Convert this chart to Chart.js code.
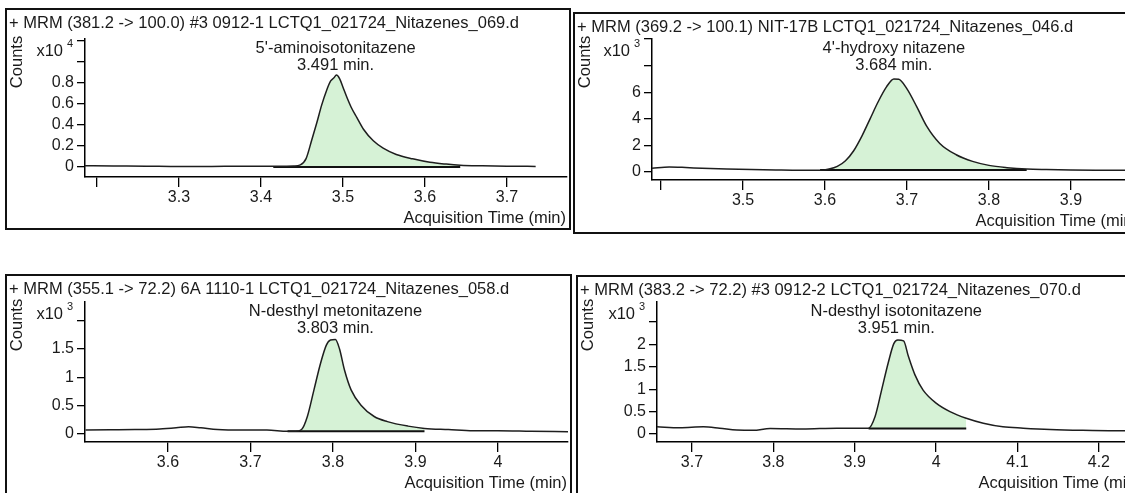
<!DOCTYPE html>
<html>
<head>
<meta charset="utf-8">
<script src="https://cdn.jsdelivr.net/npm/chart.js@4"></script>
<style>
  html, body { margin: 0; padding: 0; background: #fff; overflow: hidden; }
  body { width: 1125px; height: 493px; position: relative; }
  .panel { position: absolute; border: 2px solid #111; box-sizing: border-box; background: #fff; overflow: hidden; }
  .panel canvas { position: absolute; left: 0; top: 0; }
</style>
</head>
<body>
<div class="panel" id="p1" style="left:5px;top:8px;width:566px;height:222px"><canvas id="c1"></canvas></div>
<div class="panel" id="p2" style="left:573px;top:12px;width:570px;height:222px"><canvas id="c2"></canvas></div>
<div class="panel" id="p3" style="left:5px;top:274px;width:567px;height:240px"><canvas id="c3"></canvas></div>
<div class="panel" id="p4" style="left:576px;top:275px;width:570px;height:240px"><canvas id="c4"></canvas></div>
<script>
/* ==========================
   DATA
========================== */
// 5'-aminoisotonitazene, counts x10^4
const p1Time = [3.185, 3.22, 3.26, 3.30, 3.34, 3.38, 3.415, 3.43, 3.44, 3.448, 3.455, 3.462, 3.468, 3.474, 3.480, 3.485, 3.489, 3.492, 3.496, 3.500, 3.505, 3.510, 3.517, 3.525, 3.537, 3.549, 3.565, 3.585, 3.606, 3.626, 3.643, 3.67, 3.70, 3.735];
const p1Counts = [0.012, 0.010, 0.008, 0.005, 0.006, 0.008, 0.007, 0.008, 0.010, 0.02, 0.08, 0.26, 0.42, 0.59, 0.73, 0.82, 0.85, 0.876, 0.84, 0.76, 0.66, 0.57, 0.47, 0.36, 0.25, 0.18, 0.12, 0.078, 0.045, 0.028, 0.018, 0.012, 0.008, 0.006];
const p1XTicks = [3.2, 3.3, 3.4, 3.5, 3.6, 3.7];
const p1XLabels = ["", "3.3", "3.4", "3.5", "3.6", "3.7"];
const p1YTicks = [0, 0.2, 0.4, 0.6, 0.8, 1.0, 1.2];
const p1YLabels = ["0", "0.2", "0.4", "0.6", "0.8", "", ""];

// 4'-hydroxy nitazene, counts x10^3
const p2Time = [3.389, 3.41, 3.43, 3.45, 3.48, 3.51, 3.54, 3.57, 3.594, 3.605, 3.615, 3.625, 3.635, 3.645, 3.655, 3.665, 3.675, 3.684, 3.69, 3.70, 3.712, 3.724, 3.74, 3.76, 3.78, 3.80, 3.822, 3.846, 3.87, 3.90, 3.93, 3.96, 3.985];
const p2Counts = [0.28, 0.38, 0.34, 0.28, 0.22, 0.18, 0.15, 0.13, 0.13, 0.22, 0.42, 0.85, 1.6, 2.7, 4.0, 5.3, 6.4, 7.0, 6.98, 6.25, 4.9, 3.45, 2.15, 1.3, 0.8, 0.5, 0.33, 0.22, 0.18, 0.15, 0.14, 0.14, 0.14];
const p2XTicks = [3.4, 3.5, 3.6, 3.7, 3.8, 3.9];
const p2XLabels = ["", "3.5", "3.6", "3.7", "3.8", "3.9"];
const p2YTicks = [0, 2, 4, 6, 8, 10];
const p2YLabels = ["0", "2", "4", "6", "", ""];

// N-desthyl metonitazene, counts x10^3
const p3Time = [3.50, 3.53, 3.56, 3.59, 3.61, 3.625, 3.64, 3.66, 3.69, 3.72, 3.745, 3.755, 3.762, 3.769, 3.777, 3.785, 3.792, 3.797, 3.803, 3.808, 3.814, 3.822, 3.834, 3.85, 3.866, 3.891, 3.911, 3.94, 3.97, 4.00, 4.04, 4.085];
const p3Counts = [0.07, 0.075, 0.08, 0.09, 0.11, 0.13, 0.11, 0.08, 0.07, 0.07, 0.05, 0.05, 0.08, 0.31, 0.78, 1.25, 1.57, 1.66, 1.67, 1.50, 1.13, 0.78, 0.51, 0.31, 0.22, 0.14, 0.10, 0.08, 0.06, 0.06, 0.05, 0.04];
const p3XTicks = [3.6, 3.7, 3.8, 3.9, 4.0];
const p3XLabels = ["3.6", "3.7", "3.8", "3.9", "4"];
const p3YTicks = [0, 0.5, 1, 1.5, 2];
const p3YLabels = ["0", "0.5", "1", "1.5", ""];

// N-desthyl isotonitazene, counts x10^3
const p4Time = [3.657, 3.685, 3.714, 3.734, 3.755, 3.775, 3.796, 3.836, 3.878, 3.906, 3.917, 3.925, 3.933, 3.941, 3.948, 3.953, 3.96, 3.966, 3.974, 3.984, 4.00, 4.017, 4.037, 4.058, 4.082, 4.107, 4.14, 4.18, 4.22, 4.253];
const p4Counts = [0.16, 0.14, 0.16, 0.13, 0.09, 0.08, 0.12, 0.11, 0.13, 0.13, 0.13, 0.39, 0.98, 1.58, 2.02, 2.10, 2.08, 1.73, 1.32, 0.98, 0.69, 0.5, 0.35, 0.24, 0.16, 0.13, 0.10, 0.08, 0.07, 0.07];
const p4XTicks = [3.7, 3.8, 3.9, 4.0, 4.1, 4.2];
const p4XLabels = ["3.7", "3.8", "3.9", "4", "4.1", "4.2"];
const p4YTicks = [0, 0.5, 1, 1.5, 2, 2.5];
const p4YLabels = ["0", "0.5", "1", "1.5", "2", ""];

/* ==========================
   PANELS
========================== */
const FONT = "Liberation Sans, Arial, sans-serif";
const FILL = "rgb(214,242,214)";
const INK = "#1a1a1a";

const panels = [
    {
        canvas: "c1", w: 562, h: 218,
        area: { left: 78, top: 29, right: 560, bottom: 167 },
        xMin: 3.1854, xMax: 3.7732, yMin: -0.095, yMax: 1.22,
        time: p1Time, counts: p1Counts,
        xTicks: p1XTicks, xLabels: p1XLabels, yTicks: p1YTicks, yLabels: p1YLabels,
        intStart: 3.415, intEnd: 3.643, base: 0.0,
        title: "+ MRM (381.2 -> 100.0) #3 0912-1 LCTQ1_021724_Nitazenes_069.d",
        compound: "5'-aminoisotonitazene", rt: 3.491, exp: "4"
    },
    {
        canvas: "c2", w: 566, h: 218,
        area: { left: 77, top: 25, right: 564, bottom: 166 },
        xMin: 3.389, xMax: 3.983, yMin: -0.6, yMax: 10,
        time: p2Time, counts: p2Counts,
        xTicks: p2XTicks, xLabels: p2XLabels, yTicks: p2YTicks, yLabels: p2YLabels,
        intStart: 3.594, intEnd: 3.846, base: 0.15,
        title: "+ MRM (369.2 -> 100.1) NIT-17B LCTQ1_021724_Nitazenes_046.d",
        compound: "4'-hydroxy nitazene", rt: 3.684, exp: "3"
    },
    {
        canvas: "c3", w: 563, h: 236,
        area: { left: 78, top: 26, right: 561, bottom: 166 },
        xMin: 3.4994, xMax: 4.085, yMin: -0.14, yMax: 2.33,
        time: p3Time, counts: p3Counts,
        xTicks: p3XTicks, xLabels: p3XLabels, yTicks: p3YTicks, yLabels: p3YLabels,
        intStart: 3.745, intEnd: 3.911, base: 0.05,
        title: "+ MRM (355.1 -> 72.2) 6A 1110-1 LCTQ1_021724_Nitazenes_058.d",
        compound: "N-desthyl metonitazene", rt: 3.803, exp: "3"
    },
    {
        canvas: "c4", w: 566, h: 236,
        area: { left: 79, top: 25, right: 564, bottom: 165 },
        xMin: 3.657, xMax: 4.253, yMin: -0.18, yMax: 2.95,
        time: p4Time, counts: p4Counts,
        xTicks: p4XTicks, xLabels: p4XLabels, yTicks: p4YTicks, yLabels: p4YLabels,
        intStart: 3.917, intEnd: 4.037, base: 0.12,
        title: "+ MRM (383.2 -> 72.2) #3 0912-2 LCTQ1_021724_Nitazenes_070.d",
        compound: "N-desthyl isotonitazene", rt: 3.951, exp: "3"
    }
];

/* ==========================
   TEXT OVERLAY
========================== */
const labelsPlugin = {
    id: "mhLabels",
    afterDraw(chart, args, opts) {
        const p = opts.panel;
        const ctx = chart.ctx;
        const a = chart.chartArea;
        ctx.save();
        ctx.fillStyle = INK;
        ctx.font = `16.5px ${FONT}`;
        ctx.textBaseline = "middle";

        // header line
        ctx.textAlign = "left";
        ctx.fillText(p.title, 2, 13);

        // compound name + retention time over the peak
        const px = chart.scales.x.getPixelForValue(p.rt);
        ctx.textAlign = "center";
        ctx.fillText(p.compound, px, a.top + 9);
        ctx.fillText(p.rt.toFixed(3) + " min.", px, a.top + 26);

        // x axis title
        ctx.textAlign = "right";
        ctx.fillText("Acquisition Time (min)", p.w - 3, a.bottom + 41);

        // exponent
        ctx.fillText("x10", a.left - 22, a.top + 12);
        ctx.font = `11px ${FONT}`;
        ctx.textAlign = "left";
        ctx.fillText(p.exp, a.left - 18, a.top + 5);

        // y axis title
        ctx.font = `16.5px ${FONT}`;
        ctx.translate(10, a.top + 23);
        ctx.rotate(-Math.PI / 2);
        ctx.textAlign = "center";
        ctx.fillText("Counts", 0, 0);
        ctx.restore();
    }
};

/* ==========================
   BUILD
========================== */
function drawPanel(p) {
    const canvas = document.getElementById(p.canvas);
    canvas.width = p.w;
    canvas.height = p.h;

    const points = p.time.map((t, i) => ({ x: t, y: p.counts[i] }));
    const peak = points.filter(pt => pt.x >= p.intStart && pt.x <= p.intEnd);
    const baseline = [{ x: p.intStart, y: p.base }, { x: p.intEnd, y: p.base }];

    new Chart(canvas, {
        type: "line",
        data: {
            datasets: [
                {
                    data: points, borderColor: "#1e1e1e", borderWidth: 1.5,
                    pointRadius: 0, fill: false, cubicInterpolationMode: "monotone"
                },
                {
                    data: baseline, borderColor: "#111", borderWidth: 2,
                    pointRadius: 0, fill: false
                },
                {
                    data: peak, borderWidth: 0, borderColor: "rgba(0,0,0,0)",
                    backgroundColor: FILL, pointRadius: 0,
                    fill: { value: p.base }, cubicInterpolationMode: "monotone"
                }
            ]
        },
        options: {
            responsive: false,
            animation: false,
            devicePixelRatio: 1,
            layout: { padding: { left: 0, top: p.area.top, right: p.w - p.area.right, bottom: 0 } },
            plugins: {
                legend: { display: false },
                tooltip: { enabled: false },
                mhLabels: { panel: p }
            },
            scales: {
                x: {
                    type: "linear",
                    min: p.xMin, max: p.xMax,
                    afterBuildTicks: s => { s.ticks = p.xTicks.map(v => ({ value: v })); },
                    afterFit: s => { s.height = p.h - p.area.bottom; },
                    ticks: {
                        autoSkip: false, maxRotation: 0, padding: 1,
                        color: INK, font: { family: FONT, size: 16 },
                        callback: (v, i) => p.xLabels[i]
                    },
                    grid: { drawOnChartArea: false, drawTicks: true, tickLength: 10, color: "#000", lineWidth: 1.3 },
                    border: { display: true, color: "#000", width: 1.5 }
                },
                y: {
                    type: "linear",
                    min: p.yMin, max: p.yMax,
                    afterBuildTicks: s => { s.ticks = p.yTicks.map(v => ({ value: v })); },
                    afterFit: s => { s.width = p.area.left; },
                    ticks: {
                        autoSkip: false, padding: 3,
                        color: INK, font: { family: FONT, size: 16 },
                        callback: (v, i) => p.yLabels[i]
                    },
                    grid: { drawOnChartArea: false, drawTicks: true, tickLength: 8, color: "#000", lineWidth: 1.3 },
                    border: { display: true, color: "#000", width: 1.5 }
                }
            }
        },
        plugins: [labelsPlugin]
    });
}

panels.forEach(drawPanel);
</script>
</body>
</html>
